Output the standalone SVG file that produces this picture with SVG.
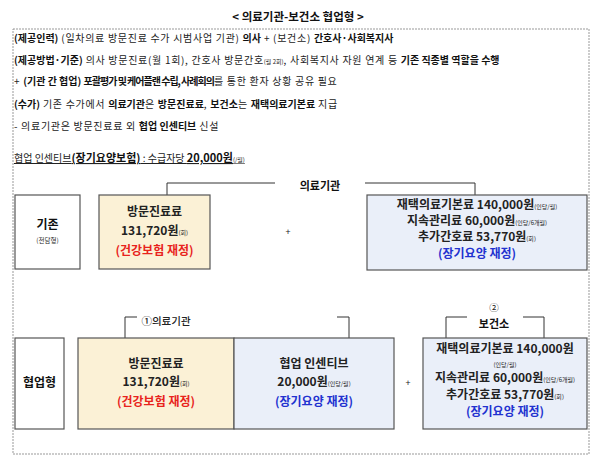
<svg xmlns="http://www.w3.org/2000/svg" width="600" height="467" viewBox="0 0 600 467">
<style>
text{font-family:"Noto Sans CJK KR","Noto Sans",sans-serif;fill:#222}
.t{font-size:10px;letter-spacing:0.7px}
.t0{font-size:10px}
.b{font-weight:700;fill:#111;letter-spacing:0}
.s{font-size:6px;letter-spacing:0}
.c{text-anchor:middle}
.bx{stroke:#555;stroke-width:1.2}
.m{font-size:12px;font-weight:700}
.m2{font-size:11.5px;font-weight:700}
.red{fill:#e8231c}
.blue{fill:#2232d0}
.ln{fill:none;stroke:#333;stroke-width:1}
</style>
<rect width="600" height="467" fill="#fff"/>
<text class="b c" x="298" y="21" style="font-size:11.5px">&lt; 의료기관-보건소 협업형 &gt;</text>
<rect x="13" y="29" width="576" height="425" fill="none" stroke="#999" stroke-width="1" stroke-dasharray="2,1"/>
<g id="info">
<text class="t" x="14" y="42"><tspan class="b">(제공인력)</tspan> (일차의료 방문진료 수가 시범사업 기관) <tspan class="b">의사</tspan> + (보건소) <tspan class="b">간호사·사회복지사</tspan></text>
<text class="t" x="14" y="64"><tspan class="b">(제공방법·기준)</tspan> 의사 방문진료(월 1회), 간호사 방문간호<tspan class="s">(월 2회)</tspan>, 사회복지사 자원 연계 등 <tspan class="b">기존 직종별 역할을 수행</tspan></text>
<text class="t" x="14" y="85">+ <tspan class="b">(기관 간 협업) </tspan><tspan class="b" style="letter-spacing:-1px">포괄평가 및 케어플랜 수립, 사례회의</tspan>를 통한 환자 상황 공유 필요</text>
<text class="t" x="14" y="108"><tspan class="b">(수가)</tspan> 기존 수가에서 <tspan class="b">의료기관</tspan>은 <tspan class="b">방문진료료</tspan>, <tspan class="b">보건소</tspan>는 <tspan class="b">재택의료기본료</tspan> 지급</text>
<text class="t" x="14" y="130">- 의료기관은 방문진료료 외 <tspan class="b">협업 인센티브</tspan> 신설</text>
<text class="t0" x="14" y="162" text-decoration="underline">협업 인센티브<tspan class="b" style="font-size:11px">(장기요양보험)</tspan> : 수급자당 <tspan class="b" style="font-size:11px">20,000원</tspan><tspan class="s">(/월)</tspan></text>
</g>
<g id="connectors">
<polyline class="ln" points="167,195 167,183 275,183"/>
<polyline class="ln" points="365,183 475,183 475,195"/>
<polyline class="ln" points="125,338 125,317 137,317"/>
<polyline class="ln" points="337,317 349,317 349,338"/>
<polyline class="ln" points="446,338 446,317 467,317"/>
<polyline class="ln" points="523,317 544,317 544,338"/>
</g>
<g id="label-row1">
<text class="b c" x="320" y="190" style="font-size:11px">의료기관</text>
</g>
<g id="existing">
<rect class="bx" x="15" y="195" width="65" height="74" fill="#fff"/>
<text class="b c" x="47.5" y="229" style="font-size:12px">기존</text>
<text class="c" x="47.5" y="243" style="font-size:6.5px">(전담형)</text>
</g>
<g id="visit1">
<rect class="bx" x="99" y="195" width="111" height="74" fill="#fbf1d6"/>
<text class="m c" x="154.5" y="216">방문진료료</text>
<text class="m c" x="154.5" y="235">131,720원<tspan class="s" style="font-weight:400">(회)</tspan></text>
<text class="m c red" x="154.5" y="255">(건강보험 재정)</text>
</g>
<text class="c" x="288" y="235" style="font-size:9px">+</text>
<g id="home1">
<rect class="bx" x="367" y="195" width="220" height="75" fill="#eaeff9"/>
<text class="m c" x="477" y="209">재택의료기본료 140,000원<tspan class="s" style="font-weight:400">(인당/월)</tspan></text>
<text class="m c" x="477" y="225">지속관리료 60,000원<tspan class="s" style="font-weight:400">(인당/6개월)</tspan></text>
<text class="m c" x="477" y="241">추가간호료 53,770원<tspan class="s" style="font-weight:400">(회)</tspan></text>
<text class="m c blue" x="477" y="258">(장기요양 재정)</text>
</g>
<g id="label-row2">
<text class="c" x="166" y="325" style="font-size:10.5px;font-weight:500">①의료기관</text>
<text class="c" x="494" y="311" style="font-size:9.5px">②</text>
<text class="b c" x="494" y="328" style="font-size:11px">보건소</text>
</g>
<g id="collab">
<rect class="bx" x="15" y="338" width="49" height="91" fill="#fff"/>
<text class="b c" x="39.5" y="387" style="font-size:12px">협업형</text>
</g>
<g id="visit2">
<rect class="bx" x="78" y="338" width="156" height="91" fill="#fbf1d6"/>
<text class="m c" x="156" y="368">방문진료료</text>
<text class="m c" x="156" y="386">131,720원<tspan class="s" style="font-weight:400">(회)</tspan></text>
<text class="m c red" x="156" y="406">(건강보험 재정)</text>
</g>
<g id="incentive">
<rect class="bx" x="234" y="338" width="160" height="91" fill="#eaeff9"/>
<text class="m c" x="314" y="368">협업 인센티브</text>
<text class="m c" x="314" y="386">20,000원<tspan class="s" style="font-weight:400">(인당/월)</tspan></text>
<text class="m c blue" x="314" y="406">(장기요양 재정)</text>
</g>
<text class="c" x="408" y="386" style="font-size:9px">+</text>
<g id="home2">
<rect class="bx" x="423" y="338" width="164" height="91" fill="#eaeff9"/>
<text class="m c" x="505" y="353">재택의료기본료 140,000원</text>
<text class="c s" x="505" y="367">(인당/월)</text>
<text class="m c" x="505" y="382">지속관리료 60,000원<tspan class="s" style="font-weight:400">(인당/6개월)</tspan></text>
<text class="m c" x="505" y="399">추가간호료 53,770원<tspan class="s" style="font-weight:400">(회)</tspan></text>
<text class="m c blue" x="505" y="416">(장기요양 재정)</text>
</g>
</svg>
